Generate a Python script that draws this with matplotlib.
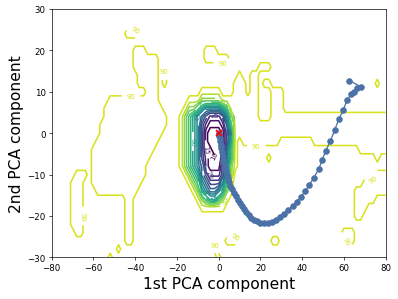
import numpy as np
import matplotlib.pyplot as plt

# loss surface on a 2-unit grid in the PCA plane
grid_x = np.arange(-80, 81, 2)
grid_y = np.arange(30, -31, -2)

# cells that drop just below 90 away from the basin: (y, x_from, x_to)
low_runs = [
    # left "continent" and its finger
    (20, -40, -36), (18, -40, -30), (16, -40, -30), (14, -38, -30), (12, -38, -30),
    (10, -34, -30), (8, -52, -30), (6, -54, -28), (4, -54, -26), (2, -56, -26),
    (0, -56, -28), (-2, -58, -30), (-4, -60, -32), (-6, -60, -34), (-8, -60, -36),
    (-10, -60, -36), (-12, -60, -38), (-14, -58, -40), (-16, -44, -42), (-18, -44, -42),
    (-20, -44, -42), (-22, -44, -42), (-24, -44, -42), (-26, -44, -42),
    # far left loop
    (-10, -68, -64), (-12, -70, -66), (-14, -70, -66), (-16, -70, -66), (-18, -70, -66),
    (-20, -70, -66), (-22, -70, -66), (-24, -68, -66),
    # small islands
    (24, -44, -40), (14, -26, -26), (12, -26, -26), (20, -6, -2), (18, -6, 4),
    (16, 20, 24), (12, 22, 24), (12, 76, 76), (-6, 24, 24), (-6, 76, 76),
    (-24, 60, 64), (-26, 62, 64), (-26, 4, 8), (-26, 26, 28), (-28, -2, -2),
    (-30, 0, 0), (-28, -48, -48), (-30, -52, -52),
    # band to the right of the basin with its pillars
    (14, 10, 10), (14, 16, 18), (12, 8, 12), (12, 16, 18), (10, 8, 12), (10, 16, 18),
    (10, 26, 30), (8, 8, 18), (8, 26, 30), (6, 8, 18), (6, 26, 30), (4, 8, 18),
    (4, 26, 80), (2, 8, 80), (0, 8, 80), (-2, 12, 28), (-2, 46, 80), (-4, 68, 80),
    # lower right patch
    (-10, 76, 80), (-12, 70, 80), (-14, 66, 80), (-16, 66, 74), (-18, 66, 70), (-20, 66, 68),
]

# basin around the final weights, columns x = -22..10, rows y = 12..-22
basin_x0 = -22
basin_y0 = 12
basin_rows = [
    "# # # # # # # # # # # # # # # 9 9",
    "# # # # # # # 9 9 9 9 9 # # # 9 9",
    "# # # # 9 9 9 8 8 8 8 8 9 9 9 9 9",
    "# # # 9 8 8 7 6 5 5 5 5 6 7 9 9 9",
    "# # 9 8 7 6 5 4 3 2 2 2 3 5 8 9 9",
    "# # 9 8 7 6 5 3 2 1 1 1 2 4 7 9 9",
    "# # 9 8 7 6 5 3 1 0 0 0 1 3 6 9 9",
    "# # 9 8 7 6 5 3 1 0 0 0 1 3 6 9 #",
    "# # 9 8 7 6 5 3 1 1 0 1 2 4 7 9 #",
    "# # 9 8 7 6 5 3 2 1 1 1 2 4 7 9 #",
    "# # 9 8 7 6 5 4 2 1 1 1 3 5 8 9 #",
    "# # # 9 8 7 6 4 3 2 2 2 3 6 8 # #",
    "# # # # 9 8 7 5 4 3 3 3 5 7 9 # #",
    "# # # # # 9 8 6 5 4 4 5 6 8 9 # #",
    "# # # # # # 9 8 7 6 6 7 8 9 # # #",
    "# # # # # # # 9 9 9 9 9 9 # # # #",
    "# # # # # # # # # # # # # # # # #",
    "# # # # # # # # # # # # # # # # #",
]
char_value = {'#': 92, '9': 88, '8': 78, '7': 68, '6': 58, '5': 48,
              '4': 38, '3': 28, '2': 18, '1': 12, '0': 6}

levels = [10, 15, 20, 25, 30, 35, 40, 45, 50, 55, 60, 65, 70, 75, 80, 85, 90, 95]

# optimisation path projected on the two components
traj_x = [62.6, 68.0, 66.2, 65.0, 63.5, 61.6, 59.7, 57.6, 55.6, 53.5,
          51.2, 49.6, 47.9, 45.6, 43.5, 41.5, 39.4, 37.4, 35.4, 33.3,
          31.3, 29.4, 27.4, 25.4, 23.4, 21.5, 20.0, 18.5, 17.0, 15.6,
          14.3, 13.2, 12.1, 11.1, 10.1, 9.2, 8.4, 7.4, 6.4, 5.5,
          4.9, 4.3, 3.8, 3.3, 2.9, 2.5, 2.2, 1.9, 1.5, 1.2,
          0.9, 0.6, 0.4, 0.2, 0.1, 0.0]
traj_y = [12.7, 11.2, 10.8, 9.9, 9.4, 8.1, 5.6, 3.4, 0.8, -2.0,
          -4.3, -6.5, -8.7, -10.8, -12.5, -14.0, -15.4, -16.6, -17.7, -18.6,
          -19.5, -20.3, -20.9, -21.5, -21.8, -21.8, -21.6, -21.3, -20.9, -20.4,
          -19.8, -19.1, -18.4, -17.7, -16.9, -16.1, -15.3, -14.5, -13.6, -12.7,
          -11.8, -10.9, -10.0, -9.1, -8.2, -7.3, -6.4, -5.5, -4.6, -3.7,
          -2.8, -2.0, -1.3, -0.7, -0.3, 0.0]


def col(x):
    return int((x + 80) // 2)


def row(y):
    return int((30 - y) // 2)


Z = np.full((len(grid_y), len(grid_x)), float(char_value['#']))
for y, a, b in low_runs:
    Z[row(y), col(a):col(b) + 1] = char_value['9']
for r, line in enumerate(basin_rows):
    for c, ch in enumerate(line.split()):
        Z[row(basin_y0) + r, col(basin_x0) + c] = char_value[ch]

# contour wants increasing y
Z = Z[::-1]
gy = grid_y[::-1]

fig = plt.figure(figsize=(6.4, 4.824), dpi=62.1875)
ax = fig.add_axes([0.130, 0.139, 0.839, 0.828])

cs = ax.contour(grid_x, gy, Z, levels=levels, cmap='viridis', linewidths=1.8)
ax.clabel(cs, inline=True, fontsize=8, fmt='%1.0f')

ax.plot(traj_x, traj_y, '-o', color='#4a72a6', markersize=6.5, linewidth=1.5)
ax.plot(traj_x[-1], traj_y[-1], 'x', color='red', markersize=7, mew=2)

ax.set_xlim(-80, 80)
ax.set_ylim(-30, 30)
ax.set_xticks([-80, -60, -40, -20, 0, 20, 40, 60, 80])
ax.set_yticks([-30, -20, -10, 0, 10, 20, 30])
ax.set_xlabel("1st PCA component", fontsize=18)
ax.set_ylabel("2nd PCA component", fontsize=18)

fig.savefig("out.png", dpi=62.1875)
